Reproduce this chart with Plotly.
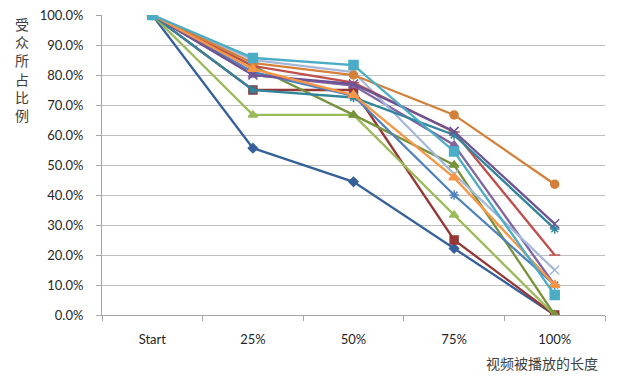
import plotly.graph_objects as go

categories = ["Start", "25%", "50%", "75%", "100%"]

s_darkblue = [1.000, 0.556, 0.444, 0.222, 0.000]
s_darkred = [1.000, 0.750, 0.750, 0.250, 0.000]
s_lightgreen = [1.000, 0.667, 0.667, 0.333, 0.000]
s_olive = [1.000, 0.830, 0.667, 0.500, 0.000]
s_blue = [1.000, 0.810, 0.730, 0.400, 0.100]
s_purple = [1.000, 0.800, 0.765, 0.567, 0.100]
s_grayblue = [1.000, 0.850, 0.810, 0.470, 0.150]
s_red = [1.000, 0.830, 0.775, 0.610, 0.200]
s_teal = [1.000, 0.750, 0.725, 0.600, 0.287]
s_darkpurple = [1.000, 0.800, 0.770, 0.612, 0.304]
s_brown = [1.000, 0.840, 0.800, 0.667, 0.436]
s_orange = [1.000, 0.820, 0.733, 0.458, 0.100]
s_aqua = [1.000, 0.857, 0.833, 0.545, 0.067]

series = [
    (s_darkblue, "#35609A", "diamond", 7),
    (s_darkred, "#953735", "square", 8),
    (s_lightgreen, "#9BBB59", "triangle-up", 8),
    (s_olive, "#77933C", "triangle-up", 8),
    (s_blue, "#4F81BD", "asterisk-open", 8),
    (s_purple, "#8064A2", "triangle-up", 8),
    (s_grayblue, "#A5B8D9", "x-thin-open", 9),
    (s_red, "#C0504D", "line-ew-open", 8),
    (s_teal, "#31859C", "asterisk-open", 8),
    (s_darkpurple, "#6E5494", "x-thin-open", 9),
    (s_brown, "#D4803A", "circle", 8),
    (s_orange, "#F79646", "triangle-up", 9),
    (s_aqua, "#4BACC6", "square", 9),
]

fig = go.Figure()
for vals, color, sym, size in series:
    fig.add_trace(go.Scatter(
        x=categories, y=vals, mode="lines+markers",
        line=dict(color=color, width=2.3),
        marker=dict(symbol=sym, size=size, color=color,
                    line=dict(color=color, width=1.5)),
        showlegend=False,
    ))

# page body has an 8px default margin; compensate so the plot sits where the reference has it
fig.update_layout(
    width=632, height=378,
    margin=dict(l=94, r=35, t=7, b=71),
    paper_bgcolor="white", plot_bgcolor="white",
    font=dict(family="Lato, Liberation Sans, sans-serif", size=13, color="#262626"),
    xaxis=dict(
        type="category", range=[-0.5, 4.5], tickson="boundaries",
        ticks="outside", ticklen=5, tickcolor="#A6A6A6",
        showline=True, linecolor="#A6A6A6", linewidth=1,
        showgrid=False, ticklabelstandoff=12, automargin=False,
    ),
    yaxis=dict(
        range=[0, 1.0], tickformat=".1%", dtick=0.1,
        ticks="outside", ticklen=5, tickcolor="#A6A6A6",
        showline=True, linecolor="#A6A6A6", linewidth=1,
        showgrid=True, gridcolor="#BFBFBF", gridwidth=1,
        zeroline=False, ticklabelstandoff=10, automargin=False,
        ticklabeloverflow="allow",
    ),
    annotations=[
        dict(text="受<br>众<br>所<br>占<br>比<br>例", xref="paper", yref="paper",
             x=-0.16, y=1.01, xanchor="center", yanchor="top", showarrow=False,
             font=dict(family="Noto Sans CJK SC", size=14, color="#404040"),
             ),
        dict(text="视频被播放的长度", xref="paper", yref="paper",
             x=0.99, y=-0.12, xanchor="right", yanchor="top", showarrow=False,
             font=dict(family="Noto Sans CJK SC", size=14, color="#404040")),
    ],
)
fig.write_html("out.html")
